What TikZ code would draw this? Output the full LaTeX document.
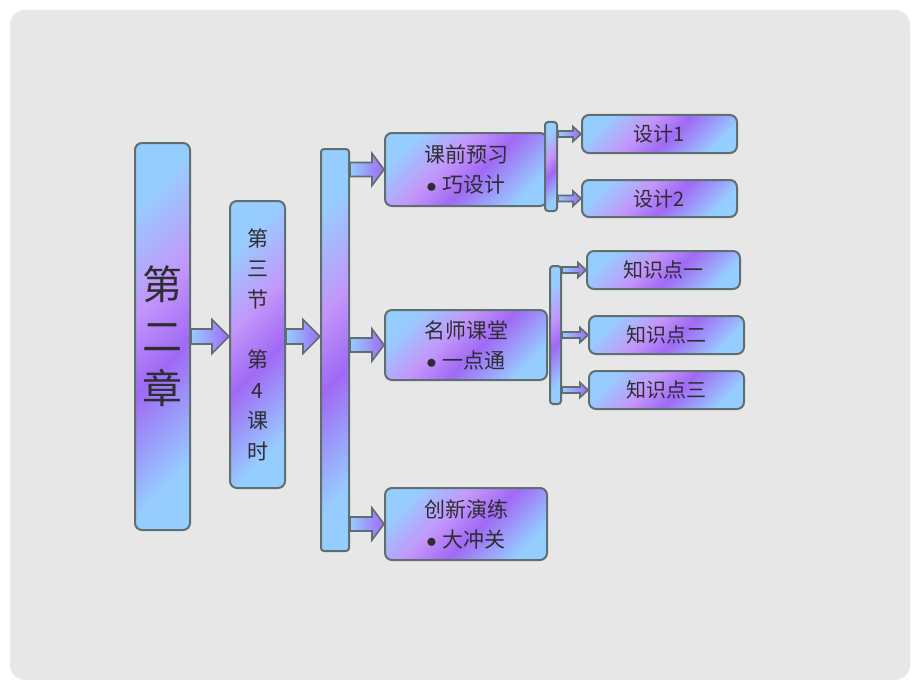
\documentclass[tikz,border=0pt]{standalone}
\usepackage{fontspec}
\setmainfont{Noto Sans CJK SC}
\usetikzlibrary{calc}

\definecolor{boxblue}{RGB}{150,205,255}
\definecolor{boxviolet}{RGB}{160,105,245}
\definecolor{boxpink}{RGB}{195,150,250}
\definecolor{boxedge}{RGB}{95,110,112}
\definecolor{pagegray}{RGB}{231,231,231}
\definecolor{inkgray}{RGB}{45,45,50}

\pgfdeclarehorizontalshading{panelshade}{100bp}{color(0bp)=(boxblue);
  color(25bp)=(boxblue); color(42bp)=(boxpink); color(55bp)=(boxviolet);
  color(75bp)=(boxblue); color(100bp)=(boxblue)}

% block arrow: start, end, shaft half width, head half width, head length
\newcommand\blockarrow[5]{%
  \draw[arrowbody] let \p1=(#1), \p2=(#2) in
    (\x1,\y1+#3) -- (\x2-#5,\y1+#3) -- (\x2-#5,\y1+#4) -- (\x2,\y1)
    -- (\x2-#5,\y1-#4) -- (\x2-#5,\y1-#3) -- (\x1,\y1-#3) -- cycle;}
\newcommand\dotitem{$\bullet$\hspace{6pt}}

\tikzset{
  panel/.style={draw=boxedge, line width=2pt, rounded corners=7pt,
    shading=panelshade, shading angle=-45, text=inkgray, inner sep=0pt,
    align=center},
  railbar/.style={panel, rounded corners=3pt},
  arrowbody/.style={draw=boxedge, line width=1.6pt, line join=miter,
    left color=boxblue, right color=boxviolet},
}

\begin{document}
\begin{tikzpicture}[x=1pt,y=-1pt]
    \useasboundingbox (0,0) rectangle (920,690);
    % Page
    \fill[pagegray, rounded corners=15pt] (10,10) rectangle (910,680);

    % Chapter and section
    \node[panel, minimum width=55pt, minimum height=387pt,
      font=\fontsize{40}{52}\selectfont] (ch) at (162.5,336.5) {第\\二\\章};
    \node[panel, minimum width=55pt, minimum height=287pt,
      font=\fontsize{21}{30.4}\selectfont] (sec) at (257.5,344.5)
      {第\\三\\节\\[30.4pt]第\\4\\课\\时};
    \node[railbar, minimum width=28pt, minimum height=402pt] (bar) at (335,350) {};

    % Three parts
    \node[panel, minimum width=162pt, minimum height=73pt,
      font=\fontsize{21}{30}\selectfont] (pre) at (466,169.5) {课前预习\\\dotitem 巧设计};
    \node[panel, minimum width=162pt, minimum height=70pt,
      font=\fontsize{21}{30}\selectfont] (mid) at (466,345) {名师课堂\\\dotitem 一点通};
    \node[panel, minimum width=162pt, minimum height=72pt,
      font=\fontsize{21}{30}\selectfont] (inn) at (466,524) {创新演练\\\dotitem 大冲关};

    % Design boxes
    \node[railbar, minimum width=12pt, minimum height=89pt] (sbarA) at (551,166.5) {};
    \node[panel, minimum width=155pt, minimum height=38pt,
      font=\fontsize{20}{24}\selectfont] (d1) at (659.5,134) {设计1};
    \node[panel, minimum width=155pt, minimum height=37pt,
      font=\fontsize{20}{24}\selectfont] (d2) at (659.5,198.5) {设计2};

    % Knowledge points
    \node[railbar, minimum width=11pt, minimum height=138pt] (sbarB) at (555.5,335) {};
    \node[panel, minimum width=153pt, minimum height=38pt,
      font=\fontsize{20}{24}\selectfont] (k1) at (663.5,270) {知识点一};
    \node[panel, minimum width=155pt, minimum height=38pt,
      font=\fontsize{20}{24}\selectfont] (k2) at (666.5,335) {知识点二};
    \node[panel, minimum width=155pt, minimum height=38pt,
      font=\fontsize{20}{24}\selectfont] (k3) at (666.5,390) {知识点三};

    % Arrows
    \blockarrow{ch.east}{sec.west}{7.5pt}{17pt}{17pt}
    \blockarrow{sec.east |- ch.east}{bar.west}{7.5pt}{17pt}{17pt}
    \blockarrow{bar.east |- pre.west}{pre.west}{7pt}{16pt}{12pt}
    \blockarrow{bar.east |- mid.west}{mid.west}{7pt}{16pt}{12pt}
    \blockarrow{bar.east |- inn.west}{inn.west}{7pt}{16pt}{12pt}
    \blockarrow{sbarA.east |- d1.west}{d1.west}{3pt}{7.5pt}{8pt}
    \blockarrow{sbarA.east |- d2.west}{d2.west}{3pt}{7.5pt}{8pt}
    \blockarrow{sbarB.east |- k1.west}{k1.west}{3pt}{7.5pt}{8pt}
    \blockarrow{sbarB.east |- k2.west}{k2.west}{3pt}{7.5pt}{8pt}
    \blockarrow{sbarB.east |- k3.west}{k3.west}{3pt}{7.5pt}{8pt}
\end{tikzpicture}
\end{document}
